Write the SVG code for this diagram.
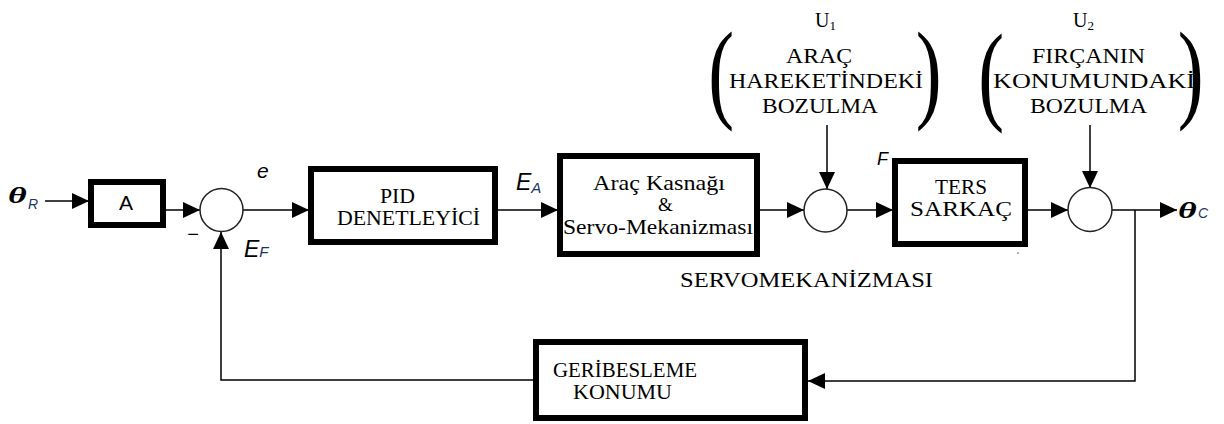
<svg xmlns="http://www.w3.org/2000/svg" width="1224" height="424" viewBox="0 0 1224 424">
<defs>
<marker id="arr" markerUnits="userSpaceOnUse" markerWidth="18" markerHeight="18" refX="17" refY="8" orient="auto">
<path d="M0,0 L17,8 L0,16 Z" fill="#000"/>
</marker>
<style>
.blk{fill:#fff;stroke:#000;stroke-width:6}
.sum{fill:#fff;stroke:#222;stroke-width:1.5}
.ar{fill:none;stroke:#000;stroke-width:1.5;marker-end:url(#arr)}
.sf{font-family:"Liberation Serif","Times New Roman",serif;fill:#000}
.ss{font-family:"Liberation Sans",Arial,sans-serif;fill:#000}
.it{font-style:italic}
.th{font-family:"Liberation Serif","Times New Roman",serif;font-weight:bold;font-style:italic;font-size:24px;fill:#000}
.sub{fill:#1f3366}
.par{font-family:"Liberation Serif","Times New Roman",serif;font-size:111px;fill:#000}
</style>
</defs>
<rect width="1224" height="424" fill="#fff"/>

<g id="connectors">
<line class="ar" x1="45" y1="201" x2="89" y2="201"/>
<line class="ar" x1="166" y1="210" x2="200" y2="210"/>
<line class="ar" x1="243" y1="210" x2="309" y2="210"/>
<line class="ar" x1="498" y1="210" x2="558" y2="210"/>
<line class="ar" x1="760" y1="210" x2="804" y2="210"/>
<line class="ar" x1="847" y1="210" x2="893" y2="210"/>
<line class="ar" x1="827" y1="125" x2="827" y2="189"/>
<line class="ar" x1="1026" y1="210" x2="1068" y2="210"/>
<line class="ar" x1="1090" y1="125" x2="1090" y2="188"/>
<line class="ar" x1="1112" y1="210" x2="1177" y2="210"/>
<polyline class="ar" points="1135,210 1135,381 808,381"/>
<polyline class="ar" points="533,380 221,380 221,232"/>
</g>

<g id="input-theta-r">
<text class="th" transform="translate(8,203) scale(1.5,1)">θ</text>
<text class="ss it sub" x="28" y="209" font-size="14">R</text>
</g>

<g id="block-a">
<rect class="blk" x="91" y="182" width="72" height="43"/>
<text class="ss" x="126" y="210" font-size="21" text-anchor="middle">A</text>
</g>

<g id="sum-1">
<circle class="sum" cx="221.5" cy="210" r="21.5"/>
<text class="ss it" x="257" y="178" font-size="21">e</text>
<text class="ss" x="193" y="241" font-size="20" text-anchor="middle">−</text>
<text class="ss it" x="244" y="257" font-size="23">E<tspan class="sub" font-size="15">F</tspan></text>
</g>

<g id="block-pid">
<rect class="blk" x="311" y="169" width="184" height="73"/>
<text class="sf" x="380" y="203" font-size="21" textLength="35" lengthAdjust="spacingAndGlyphs">PID</text>
<text class="sf" x="337" y="225" font-size="21" textLength="143" lengthAdjust="spacingAndGlyphs">DENETLEYİCİ</text>
</g>

<g id="label-ea">
<text class="ss it" x="516" y="190" font-size="23">E<tspan class="sub" font-size="15" dy="3">A</tspan></text>
</g>

<g id="block-arac">
<rect class="blk" x="560" y="156" width="197" height="98"/>
<text class="sf" x="593" y="190" font-size="21" textLength="132" lengthAdjust="spacingAndGlyphs">Araç Kasnağı</text>
<text class="sf" x="658" y="211" font-size="19">&amp;</text>
<text class="sf" x="563" y="234" font-size="21" textLength="190" lengthAdjust="spacingAndGlyphs">Servo-Mekanizması</text>
</g>

<g id="disturbance-u1">
<text class="sf" x="815" y="27" font-size="20">U<tspan font-size="13" dy="3">1</tspan></text>
<text class="par" transform="translate(708.3,108) scale(0.7,1)">(</text>
<text class="par" transform="translate(915.7,108) scale(0.7,1)">)</text>
<text class="sf" x="786" y="63" font-size="22" textLength="66" lengthAdjust="spacingAndGlyphs">ARAÇ</text>
<text class="sf" x="729" y="88" font-size="22" textLength="194" lengthAdjust="spacingAndGlyphs">HAREKETİNDEKİ</text>
<text class="sf" x="762" y="113" font-size="22" textLength="116" lengthAdjust="spacingAndGlyphs">BOZULMA</text>
</g>

<g id="sum-2">
<circle class="sum" cx="825.5" cy="210.5" r="21.5"/>
<text class="ss it" x="877" y="165" font-size="18">F</text>
</g>

<g id="block-ters">
<rect class="blk" x="895" y="161" width="130" height="83"/>
<text class="sf" x="935" y="194" font-size="20" textLength="52" lengthAdjust="spacingAndGlyphs">TERS</text>
<text class="sf" x="910" y="216" font-size="20" textLength="102" lengthAdjust="spacingAndGlyphs">SARKAÇ</text>
</g>

<g id="disturbance-u2">
<text class="sf" x="1073" y="27" font-size="20">U<tspan font-size="13" dy="3">2</tspan></text>
<text class="par" transform="translate(978.3,110) scale(0.7,1)">(</text>
<text class="par" transform="translate(1177.7,108) scale(0.7,1)">)</text>
<text class="sf" x="1032" y="63" font-size="22" textLength="113" lengthAdjust="spacingAndGlyphs">FIRÇANIN</text>
<text class="sf" x="993" y="88" font-size="22" textLength="202" lengthAdjust="spacingAndGlyphs">KONUMUNDAKİ</text>
<text class="sf" x="1030" y="113" font-size="22" textLength="117" lengthAdjust="spacingAndGlyphs">BOZULMA</text>
</g>

<g id="sum-3">
<circle class="sum" cx="1090" cy="209.5" r="22"/>
</g>

<g id="output-theta-c">
<text class="th" transform="translate(1178,218) scale(1.5,1)">θ</text>
<text class="ss it sub" x="1198" y="218" font-size="14">C</text>
</g>

<g id="label-servo">
<text class="sf" x="680" y="287" font-size="21" textLength="253" lengthAdjust="spacingAndGlyphs">SERVOMEKANİZMASI</text>
<circle cx="1018" cy="253" r="0.8" fill="#555"/>
</g>

<g id="block-geribesleme">
<rect class="blk" x="536" y="342" width="269" height="76"/>
<text class="sf" x="553" y="377" font-size="21" textLength="144" lengthAdjust="spacingAndGlyphs">GERİBESLEME</text>
<text class="sf" x="573" y="399" font-size="21" textLength="99" lengthAdjust="spacingAndGlyphs">KONUMU</text>
</g>
</svg>
